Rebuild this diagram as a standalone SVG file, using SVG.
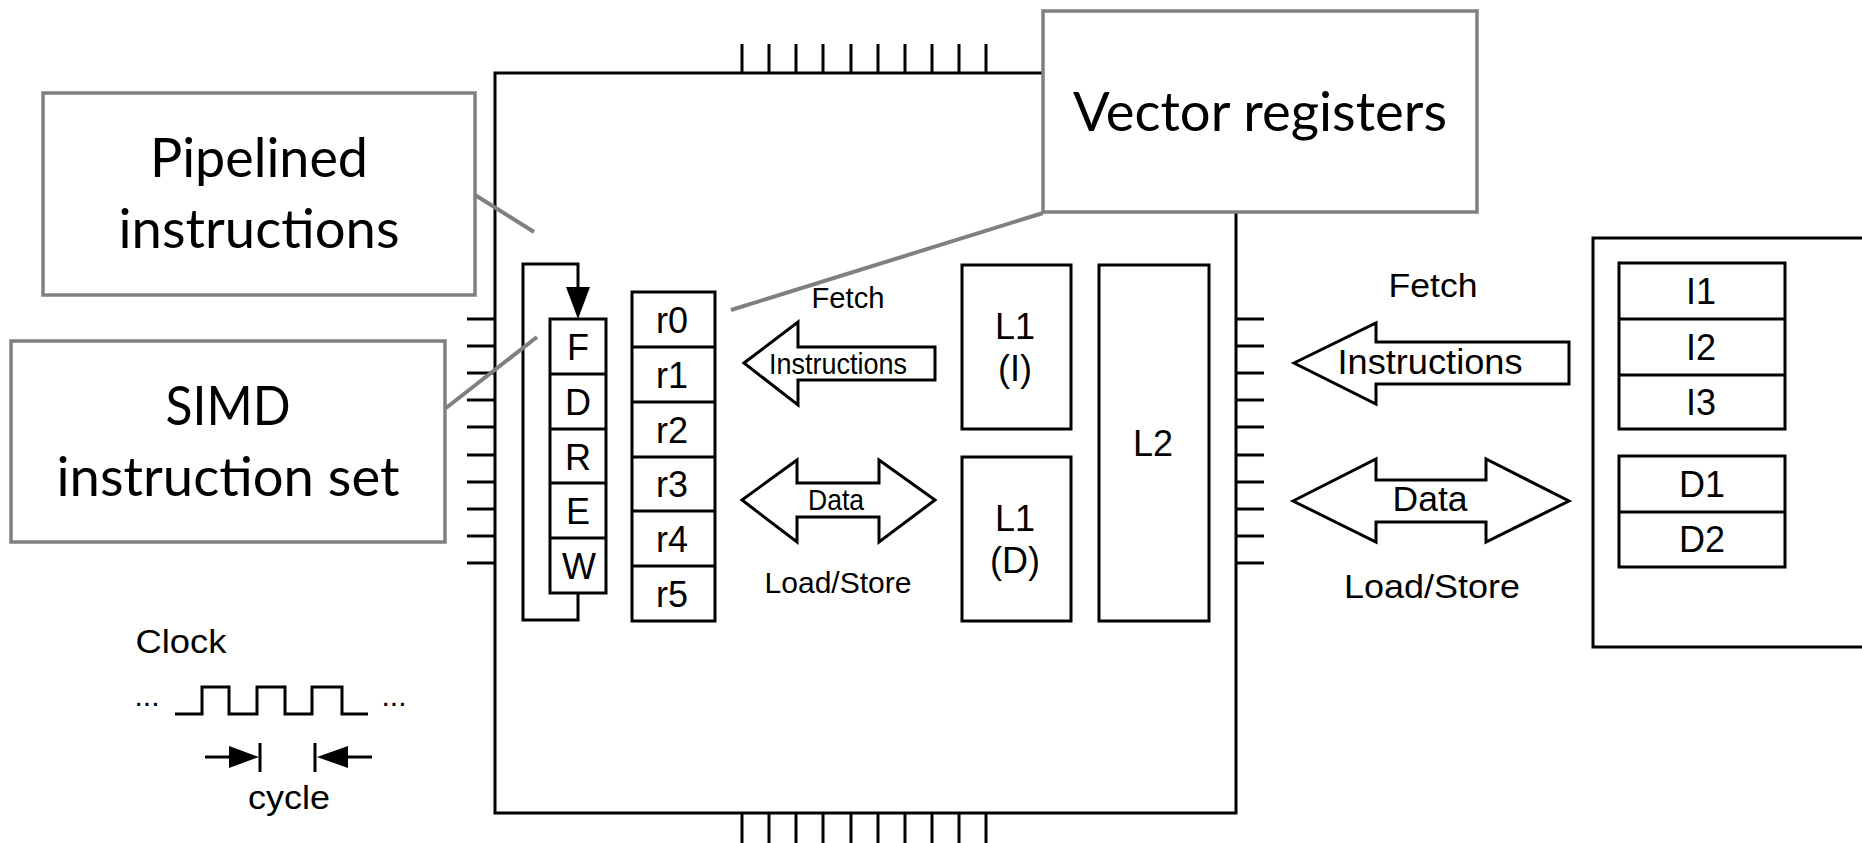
<svg xmlns="http://www.w3.org/2000/svg" width="1862" height="843" viewBox="0 0 1862 843">
<style>
.bx{fill:#fff;stroke:#000;stroke-width:3}
.ln{fill:none;stroke:#000;stroke-width:3}
.pin{stroke:#000;stroke-width:3}
.call{fill:#fff;stroke:#808080;stroke-width:3.5}
.lead{stroke:#808080;stroke-width:4;fill:none}
.h{font-family:"Liberation Sans",Arial,sans-serif;fill:#000;text-anchor:middle}
.cl{font-family:"Liberation Sans",Arial,sans-serif;fill:#000;text-anchor:middle;font-size:36px}
.c{font-family:Lato,"Open Sans",sans-serif;fill:#000;text-anchor:middle;font-size:54px}
.arr{fill:#fff;stroke:#000;stroke-width:3;stroke-linejoin:miter}
</style>

<g id="chip">
<rect class="bx" x="495" y="73" width="741" height="740"/>
<g id="pins-top">
<line class="pin" x1="742" y1="44" x2="742" y2="73"/><line class="pin" x1="769" y1="44" x2="769" y2="73"/><line class="pin" x1="796" y1="44" x2="796" y2="73"/><line class="pin" x1="823" y1="44" x2="823" y2="73"/><line class="pin" x1="851" y1="44" x2="851" y2="73"/><line class="pin" x1="878" y1="44" x2="878" y2="73"/><line class="pin" x1="905" y1="44" x2="905" y2="73"/><line class="pin" x1="932" y1="44" x2="932" y2="73"/><line class="pin" x1="959" y1="44" x2="959" y2="73"/><line class="pin" x1="986" y1="44" x2="986" y2="73"/>
</g>
<g id="pins-bottom">
<line class="pin" x1="742" y1="813" x2="742" y2="843"/><line class="pin" x1="769" y1="813" x2="769" y2="843"/><line class="pin" x1="796" y1="813" x2="796" y2="843"/><line class="pin" x1="823" y1="813" x2="823" y2="843"/><line class="pin" x1="851" y1="813" x2="851" y2="843"/><line class="pin" x1="878" y1="813" x2="878" y2="843"/><line class="pin" x1="905" y1="813" x2="905" y2="843"/><line class="pin" x1="932" y1="813" x2="932" y2="843"/><line class="pin" x1="959" y1="813" x2="959" y2="843"/><line class="pin" x1="986" y1="813" x2="986" y2="843"/>
</g>
<g id="pins-left">
<line class="pin" x1="467" y1="319" x2="495" y2="319"/><line class="pin" x1="467" y1="346" x2="495" y2="346"/><line class="pin" x1="467" y1="373" x2="495" y2="373"/><line class="pin" x1="467" y1="400" x2="495" y2="400"/><line class="pin" x1="467" y1="427" x2="495" y2="427"/><line class="pin" x1="467" y1="455" x2="495" y2="455"/><line class="pin" x1="467" y1="482" x2="495" y2="482"/><line class="pin" x1="467" y1="509" x2="495" y2="509"/><line class="pin" x1="467" y1="536" x2="495" y2="536"/><line class="pin" x1="467" y1="563" x2="495" y2="563"/>
</g>
<g id="pins-right">
<line class="pin" x1="1236" y1="319" x2="1264" y2="319"/><line class="pin" x1="1236" y1="346" x2="1264" y2="346"/><line class="pin" x1="1236" y1="373" x2="1264" y2="373"/><line class="pin" x1="1236" y1="400" x2="1264" y2="400"/><line class="pin" x1="1236" y1="427" x2="1264" y2="427"/><line class="pin" x1="1236" y1="455" x2="1264" y2="455"/><line class="pin" x1="1236" y1="482" x2="1264" y2="482"/><line class="pin" x1="1236" y1="509" x2="1264" y2="509"/><line class="pin" x1="1236" y1="536" x2="1264" y2="536"/><line class="pin" x1="1236" y1="563" x2="1264" y2="563"/>
</g>
</g>

<g id="pipeline">
<rect class="bx" x="550" y="319" width="56" height="274"/>
<line class="ln" x1="550" y1="374" x2="606" y2="374"/>
<line class="ln" x1="550" y1="429" x2="606" y2="429"/>
<line class="ln" x1="550" y1="483" x2="606" y2="483"/>
<line class="ln" x1="550" y1="538" x2="606" y2="538"/>
<text class="cl" x="578" y="360">F</text>
<text class="cl" x="578" y="415">D</text>
<text class="cl" x="578" y="470">R</text>
<text class="cl" x="578" y="524">E</text>
<text class="cl" x="579" y="579">W</text>
</g>

<g id="registers">
<rect class="bx" x="632" y="292" width="83" height="329"/>
<line class="ln" x1="632" y1="347" x2="715" y2="347"/>
<line class="ln" x1="632" y1="402" x2="715" y2="402"/>
<line class="ln" x1="632" y1="457" x2="715" y2="457"/>
<line class="ln" x1="632" y1="511" x2="715" y2="511"/>
<line class="ln" x1="632" y1="566" x2="715" y2="566"/>
<text class="cl" x="672" y="333">r0</text>
<text class="cl" x="672" y="388">r1</text>
<text class="cl" x="672" y="443">r2</text>
<text class="cl" x="672" y="497">r3</text>
<text class="cl" x="672" y="552">r4</text>
<text class="cl" x="672" y="607">r5</text>
</g>

<g id="l1i">
<rect class="bx" x="962" y="265" width="109" height="164"/>
<text class="cl" x="1015" y="339">L1</text>
<text class="cl" x="1015" y="381">(I)</text>
</g>
<g id="l1d">
<rect class="bx" x="962" y="457" width="109" height="164"/>
<text class="cl" x="1015" y="531">L1</text>
<text class="cl" x="1015" y="573">(D)</text>
</g>
<g id="l2">
<rect class="bx" x="1099" y="265" width="110" height="356"/>
<text class="cl" x="1153" y="456">L2</text>
</g>

<g id="memory">
<path class="ln" d="M1870,238 H1593 V647 H1870"/>
<rect class="bx" x="1619" y="263" width="166" height="166"/>
<line class="ln" x1="1619" y1="319" x2="1785" y2="319"/>
<line class="ln" x1="1619" y1="375" x2="1785" y2="375"/>
<text class="cl" x="1701" y="304">I1</text>
<text class="cl" x="1701" y="360">I2</text>
<text class="cl" x="1701" y="415">I3</text>
<rect class="bx" x="1619" y="456" width="166" height="111"/>
<line class="ln" x1="1619" y1="512" x2="1785" y2="512"/>
<text class="cl" x="1702" y="497">D1</text>
<text class="cl" x="1702" y="552">D2</text>
</g>

<g id="connectors">
<path class="ln" d="M578,593 V620 H523 V264 H578 V292"/>
<polygon points="566,287 590,287 578,319" fill="#000"/>
<g id="fetch-small">
<polygon class="arr" points="744,363 798,322 798,347 935,347 935,380 798,380 798,405"/>
<text class="h" x="848" y="308" font-size="30" textLength="73" lengthAdjust="spacingAndGlyphs">Fetch</text>
<text class="h" x="838" y="374" font-size="29" textLength="138" lengthAdjust="spacingAndGlyphs">Instructions</text>
</g>
<g id="data-small">
<polygon class="arr" points="742,500 797,460 797,483 879,483 879,460 935,500 879,542 879,517 797,517 797,542"/>
<text class="h" x="836" y="510" font-size="29" textLength="56" lengthAdjust="spacingAndGlyphs">Data</text>
<text class="h" x="838" y="593" font-size="30" textLength="147" lengthAdjust="spacingAndGlyphs">Load/Store</text>
</g>
<g id="fetch-big">
<polygon class="arr" points="1294,363 1376,323 1376,342 1569,342 1569,384 1376,384 1376,404"/>
<text class="h" x="1433" y="297" font-size="33" textLength="89" lengthAdjust="spacingAndGlyphs">Fetch</text>
<text class="h" x="1430" y="374" font-size="35" textLength="185" lengthAdjust="spacingAndGlyphs">Instructions</text>
</g>
<g id="data-big">
<polygon class="arr" points="1293,501 1376,459 1376,480 1486,480 1486,459 1569,501 1486,542 1486,522 1376,522 1376,542"/>
<text class="h" x="1430" y="511" font-size="35" textLength="75" lengthAdjust="spacingAndGlyphs">Data</text>
<text class="h" x="1432" y="598" font-size="34" textLength="176" lengthAdjust="spacingAndGlyphs">Load/Store</text>
</g>
<line class="lead" x1="475" y1="195" x2="534" y2="232"/>
<line class="lead" x1="446" y1="408" x2="537" y2="337"/>
<line class="lead" x1="1043" y1="213" x2="731" y2="310"/>
</g>

<g id="callout-pipelined">
<rect class="call" x="43" y="93" width="432" height="202"/>
<text class="c" x="259" y="177" textLength="218" lengthAdjust="spacingAndGlyphs">Pipelined</text>
<text class="c" x="259" y="248" textLength="281" lengthAdjust="spacingAndGlyphs">instructions</text>
</g>
<g id="callout-simd">
<rect class="call" x="11" y="341" width="434" height="201"/>
<text class="c" x="228" y="425" textLength="125" lengthAdjust="spacingAndGlyphs">SIMD</text>
<text class="c" x="228" y="496" textLength="343" lengthAdjust="spacingAndGlyphs">instruction set</text>
</g>
<g id="callout-vector">
<rect class="call" x="1043" y="11" width="434" height="201"/>
<text class="c" x="1260" y="131" textLength="374" lengthAdjust="spacingAndGlyphs">Vector registers</text>
</g>

<g id="clock">
<text class="h" x="181" y="653" font-size="34" textLength="91" lengthAdjust="spacingAndGlyphs">Clock</text>
<text class="h" x="147" y="706" font-size="30">...</text>
<text class="h" x="394" y="706" font-size="30">...</text>
<path class="ln" d="M175,714 H202 V687 H229 V714 H257 V687 H285 V714 H312 V687 H342 V714 H368"/>
<line class="ln" x1="205" y1="757" x2="232" y2="757"/>
<polygon points="229,746 259,757 229,768" fill="#000"/>
<line class="ln" x1="260" y1="743" x2="260" y2="772"/>
<line class="ln" x1="315" y1="743" x2="315" y2="772"/>
<polygon points="348,746 317,757 348,768" fill="#000"/>
<line class="ln" x1="345" y1="757" x2="372" y2="757"/>
<text class="h" x="289" y="809" font-size="34" textLength="82" lengthAdjust="spacingAndGlyphs">cycle</text>
</g>
</svg>
